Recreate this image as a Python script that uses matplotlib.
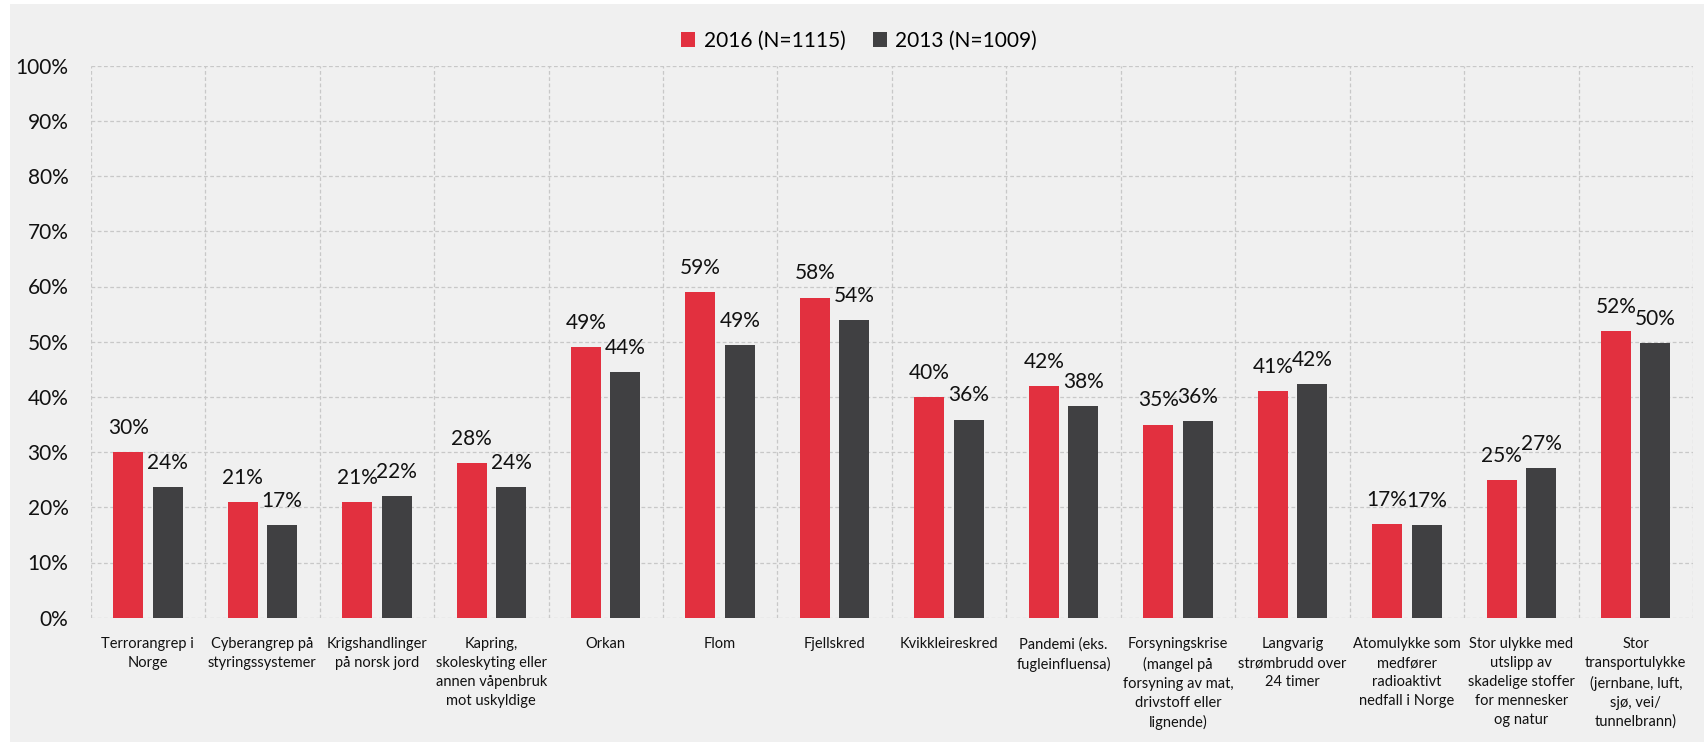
import matplotlib
matplotlib.use("Agg")
import matplotlib.pyplot as plt
from matplotlib.patches import Rectangle
import numpy as np

plt.rcParams['font.family'] = ['Lato', 'DejaVu Sans']

categories = [
    "Terrorangrep i\nNorge",
    "Cyberangrep på\nstyringssystemer",
    "Krigshandlinger\npå norsk jord",
    "Kapring,\nskoleskyting eller\nannen våpenbruk\nmot uskyldige",
    "Orkan",
    "Flom",
    "Fjellskred",
    "Kvikkleireskred",
    "Pandemi (eks.\nfugleinfluensa)",
    "Forsyningskrise\n(mangel på\nforsyning av mat,\ndrivstoff eller\nlignende)",
    "Langvarig\nstrømbrudd over\n24 timer",
    "Atomulykke som\nmedfører\nradioaktivt\nnedfall i Norge",
    "Stor ulykke med\nutslipp av\nskadelige stoffer\nfor mennesker\nog natur",
    "Stor\ntransportulykke\n(jernbane, luft,\nsjø, vei/\ntunnelbrann)",
]
values_2016 = [30, 21, 21, 28, 49, 59, 58, 40, 42, 35, 41, 17, 25, 52]
values_2013 = [23.7, 16.8, 22.1, 23.7, 44.5, 49.4, 53.9, 35.9, 38.3, 35.6, 42.4, 16.8, 27.2, 49.7]
series_names = ["2016 (N=1115)", "2013 (N=1009)"]

red = "#E2303F"
dark = "#404042"
bg = "#F0F0F0"

fig = plt.figure(figsize=(17.05, 7.42), dpi=100)
fig.patch.set_facecolor("white")
fig.add_artist(Rectangle((10 / 1705, 0), 1694 / 1705, 738 / 742,
                         transform=fig.transFigure, facecolor=bg,
                         edgecolor="none", zorder=-10))

ax = fig.add_axes([90.7 / 1705, 1 - 617.7 / 742,
                   (1693 - 90.7) / 1705, (617.7 - 65.7) / 742])
ax.set_facecolor(bg)

x = np.arange(len(categories))
w = 0.262
off = 0.172
b1 = ax.bar(x - off, [v / 100 for v in values_2016], w, color=red, label=series_names[0], zorder=3)
b2 = ax.bar(x + off, [v / 100 for v in values_2013], w, color=dark, label=series_names[1], zorder=3)

# data labels above bars
for bars, vals in ((b1, values_2016), (b2, values_2013)):
    for rect, v in zip(bars, vals):
        ax.annotate(f"{round(v)}%", (rect.get_x() + rect.get_width() / 2, rect.get_height()),
                    xytext=(0, 13), textcoords="offset points",
                    ha="center", va="baseline", fontsize=15, color="#111111", zorder=4)

ax.set_xlim(-0.5, len(categories) - 0.5)
ax.set_ylim(0, 1.0)
ax.set_yticks(np.arange(0, 1.01, 0.1))
ax.set_yticklabels([f"{int(round(t * 100))}%" for t in np.arange(0, 1.01, 0.1)], fontsize=15)
ax.set_xticks(x)
ax.set_xticklabels(categories, fontsize=10.5, linespacing=1.45, va="top")
ax.tick_params(axis="both", length=0, colors="#111111")
ax.tick_params(axis="y", pad=16)
ax.tick_params(axis="x", pad=14)

# dashed grid, incl. category boundaries
for s in ax.spines.values():
    s.set_visible(False)
for yv in np.arange(0, 1.01, 0.1):
    ax.axhline(yv, color="#C8C8C8", linestyle=(0, (3, 2)), linewidth=0.9, zorder=1)
for xv in np.arange(-0.5, len(categories), 1.0):
    ax.axvline(xv, color="#C8C8C8", linestyle=(0, (3, 2)), linewidth=0.9, zorder=1)

fig.legend(handles=[b1, b2], labels=series_names, loc="center",
           bbox_to_anchor=(859 / 1705, 1 - 41 / 742), ncol=2, frameon=False,
           fontsize=15, handlelength=0.7, handleheight=0.7, handletextpad=0.4,
           columnspacing=1.3)

fig.savefig("out.png", dpi=100, facecolor=fig.get_facecolor())
